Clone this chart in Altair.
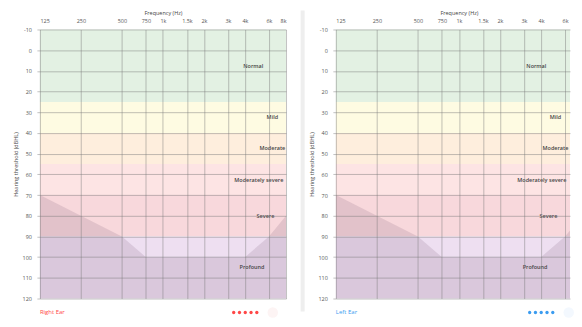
import altair as alt
import pandas as pd

# ---- data ----
freq_ticks = [125, 250, 500, 750, 1000, 1500, 2000, 3000, 4000, 6000, 8000]
freq_labels = ["125", "250", "500", "750", "1k", "1.5k", "2k", "3k", "4k", "6k", "8k"]
db_ticks = list(range(-10, 121, 10))

band_names = ["Normal", "Mild", "Moderate", "Moderately severe", "Severe", "Profound"]
band_lo = [-10, 25, 40, 55, 70, 90]
band_hi = [25, 40, 55, 70, 90, 120]
band_colors = ["#e3f1e3", "#fefbe2", "#feeedd", "#fde4e4", "#f8d8dc", "#eedff1"]
band_label_freq = [4600, 6350, 6350, 5050, 5650, 4500]

overlay_freq = [125, 250, 500, 750, 4000, 6000, 8000]
overlay_db = [70, 80, 90, 100, 100, 90, 80]

ears = ["Right Ear", "Left Ear"]
ear_colors = ["#ff4747", "#3b9cf0"]
button_fill = ["#fdf4f4", "#f3f8fe"]
n_dots = 5

# the right panel is cut by the window edge: it shows 125 Hz .. ~6.5 kHz
panel_width = [247, 235]
panel_fmax = [8000, 6530]
label_shift = [0, -13]

H = 270
FONT = "Open Sans"

bands = pd.DataFrame({"name": band_names, "lo": band_lo, "hi": band_hi,
                      "color": band_colors, "lf": band_label_freq})
bands["mid"] = (bands["lo"] + bands["hi"]) / 2
overlay = pd.DataFrame({"freq": overlay_freq, "db": overlay_db})

label_expr = ""
for v, l in zip(freq_ticks, freq_labels):
    label_expr += f"datum.value == {v} ? '{l}' : "
label_expr += "''"

y_scale = alt.Scale(domain=[-10, 120], reverse=True, nice=False, zero=False)
y_axis = alt.Axis(values=db_ticks, labelExpr="'' + datum.value",
                  title="Hearing threshold (dBHL)", tickSize=3, labelPadding=5.5,
                  titlePadding=3.5, domain=False, zindex=1)

one = pd.DataFrame({"t": [""]})


def panel(i):
    W = panel_width[i]
    fmax = panel_fmax[i]
    x_scale = alt.Scale(type="log", domain=[125, fmax], nice=False)
    x_axis = alt.Axis(orient="top", values=[f for f in freq_ticks if f <= fmax],
                      labelExpr=label_expr, title="Frequency (Hz)", ticks=False,
                      tickSize=0, labelPadding=6, titlePadding=3.5, titleX=123.5,
                      domain=False, zindex=1)
    base_bands = alt.Chart(bands).mark_rect().encode(
        x=alt.value(0), x2=alt.value(W),
        y=alt.Y("lo:Q", scale=y_scale, axis=y_axis),
        y2="hi:Q",
        color=alt.Color("color:N", scale=None),
    )
    area = alt.Chart(overlay).mark_area(color="#4b2a4b", opacity=0.12, clip=True).encode(
        x=alt.X("freq:Q", scale=x_scale, axis=x_axis),
        y=alt.Y("db:Q", scale=y_scale, axis=y_axis),
        y2=alt.datum(120),
    )
    labels = alt.Chart(bands).mark_text(
        font=FONT, fontSize=5.5, fontWeight=600, color="#444", baseline="middle",
        clip=True, dx=label_shift[i],
    ).encode(
        x=alt.X("lf:Q", scale=x_scale, axis=x_axis),
        y=alt.Y("mid:Q", scale=y_scale, axis=y_axis),
        text="name:N",
    )
    ear = alt.Chart(pd.DataFrame({"t": [ears[i]]})).mark_text(
        font=FONT, fontSize=6, color=ear_colors[i], align="left", baseline="middle"
    ).encode(x=alt.value(0), y=alt.value(H + 14), text="t:N")
    button = alt.Chart(one).mark_point(
        shape="circle", filled=True, size=110, color=button_fill[i], opacity=1
    ).encode(x=alt.value(233.7), y=alt.value(H + 14))
    dots = [
        alt.Chart(one).mark_point(shape="circle", filled=True, size=11,
                                  color=ear_colors[i], opacity=1)
        .encode(x=alt.value(194.5 + 5.8 * k), y=alt.value(H + 14))
        for k in range(n_dots)
    ]
    layers = [base_bands, area, labels, ear, button] + dots
    if i == 1:
        sep = alt.Chart(one).mark_rule(
            color="#eeeeee", strokeWidth=4
        ).encode(x=alt.value(-33.3), y=alt.value(-19), y2=alt.value(283))
        layers = [sep] + layers
    return alt.layer(*layers).properties(width=W, height=H)


chart = alt.hconcat(panel(0), panel(1), spacing=50, bounds="flush").properties(
    padding={"left": 5, "top": 0, "right": 0, "bottom": 0}
).configure_view(strokeOpacity=0).configure_axis(
    labelFont=FONT, labelFontSize=5.5, labelColor="#555",
    titleFont=FONT, titleFontSize=5.5, titleFontWeight="normal", titleColor="#444",
    gridColor="#777", gridOpacity=0.45, tickColor="#777", tickOpacity=0.45,
)

chart.save("out.html", embed_options={"renderer": "svg", "actions": False})
